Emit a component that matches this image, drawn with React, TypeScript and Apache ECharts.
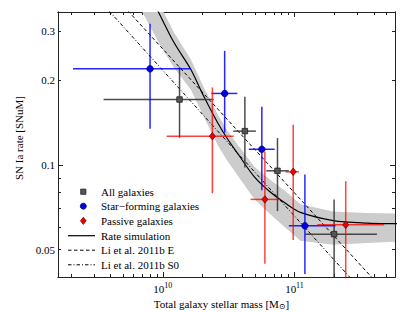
import React, { useEffect, useRef } from "react";
import * as echarts from "echarts";

// ---------- axis ranges & ticks ----------
const X_MIN = 1.6e9;
const X_MAX = 5.8e11;
const Y_MIN = 0.04;
const Y_MAX = 0.35;
const xMajorTicks = [1e10, 1e11];
const xMinorTicks = [2e9, 3e9, 4e9, 5e9, 6e9, 7e9, 8e9, 9e9, 2e10, 3e10, 4e10, 5e10, 6e10, 7e10, 8e10, 9e10, 2e11, 3e11, 4e11, 5e11];
const yLabelTicks = [0.05, 0.1, 0.2, 0.3];
const yMajorTicks = [0.1];
const yMinorTicks = [0.04, 0.05, 0.06, 0.07, 0.08, 0.09, 0.2, 0.3];

// ---------- All galaxies ----------
const allMass = [1.34e10, 4.2e10, 7.43e10, 2.0e11];
const allMassLow = [3.55e9, 3.43e10, 6.11e10, 1.21e11];
const allMassHigh = [2.43e10, 5.09e10, 9.06e10, 4.23e11];
const allRate = [0.171, 0.132, 0.0954, 0.0568];
const allRateLow = [0.125, 0.098, 0.0686, 0.03];
const allRateHigh = [0.223, 0.175, 0.1247, 0.0755];

// ---------- Star-forming galaxies ----------
const sfMass = [8.0e9, 2.95e10, 5.65e10, 1.2e11];
const sfMassLow = [2.08e9, 2.34e10, 4.5e10, 9.06e10];
const sfMassHigh = [1.63e10, 3.68e10, 7.08e10, 2.05e11];
const sfRate = [0.2198, 0.1797, 0.1138, 0.0608];
const sfRateLow = [0.1345, 0.1303, 0.0813, 0.041];
const sfRateHigh = [0.318, 0.2547, 0.161, 0.0926];

// ---------- Passive galaxies ----------
const psMass = [2.38e10, 5.96e10, 9.78e10, 2.45e11];
const psMassLow = [1.07e10, 4.64e10, 8.55e10, 1.49e11];
const psMassHigh = [3.45e10, 7.74e10, 1.08e11, 4.8e11];
const psRate = [0.1267, 0.0755, 0.0946, 0.0613];
const psRateLow = [0.0794, 0.0446, 0.0542, 0.03];
const psRateHigh = [0.1888, 0.1116, 0.139, 0.0877];

// ---------- Rate simulation (line + band) ----------
const simMass = [6.81e9, 9.17e9, 1.21e10, 1.63e10, 2.05e10, 2.61e10, 3.06e10, 3.77e10, 4.98e10, 6.58e10, 8.55e10, 1.11e11, 1.97e11, 3.57e11, 5.82e11, 7.57e11];
const simRate = [0.468, 0.3535, 0.2737, 0.219, 0.1752, 0.1414, 0.125, 0.1086, 0.0906, 0.08, 0.0731, 0.0679, 0.0635, 0.0622, 0.0619, 0.0618];
const simUpper = [0.508, 0.3838, 0.2972, 0.2378, 0.1888, 0.1511, 0.1335, 0.1169, 0.0985, 0.0884, 0.0807, 0.0725, 0.0684, 0.0676, 0.0673, 0.0671];
const simLower = [0.358, 0.276, 0.2227, 0.1857, 0.1486, 0.1179, 0.1042, 0.0906, 0.0755, 0.0667, 0.0599, 0.0538, 0.0521, 0.0528, 0.0534, 0.0536];

// ---------- Li et al. 2011b power laws ----------
const liEMass = [5.43e9, 3.9e11];
const liERate = [0.3535, 0.0397];
const liS0Mass = [3.9e9, 2.66e11];
const liS0Rate = [0.3535, 0.0397];

// ---------- legend ----------
const legendLabels = ["All galaxies", "Star\u2212forming galaxies", "Passive galaxies", "Rate simulation", "Li et al. 2011b E", "Li et al. 2011b S0"];

const FONT = "'Liberation Serif', 'DejaVu Serif', 'Times New Roman', serif";
const AXIS_COLOR = "#222";

function rows(m: number[], ml: number[], mh: number[], r: number[], rl: number[], rh: number[]) {
  return m.map((v, i) => [v, r[i], ml[i], mh[i], rl[i], rh[i]]);
}

function errorBars(name: string, data: number[][], color: string) {
  return {
    type: "custom",
    name,
    xAxisIndex: 0,
    yAxisIndex: 0,
    clip: true,
    silent: true,
    z: 3,
    data,
    encode: { x: 0, y: 1 },
    renderItem: (params: any, api: any) => {
      const x = api.value(0);
      const y = api.value(1);
      const xl = api.value(2);
      const xh = api.value(3);
      const yl = Math.max(api.value(4), Y_MIN);
      const yh = Math.min(api.value(5), Y_MAX);
      const c = api.coord([x, y]);
      const pl = api.coord([Math.max(xl, X_MIN), y]);
      const ph = api.coord([Math.min(xh, X_MAX), y]);
      const ql = api.coord([x, yl]);
      const qh = api.coord([x, yh]);
      const style = { stroke: color, lineWidth: 1.5, fill: null };
      return {
        type: "group",
        children: [
          { type: "line", shape: { x1: pl[0], y1: c[1], x2: ph[0], y2: c[1] }, style },
          { type: "line", shape: { x1: c[0], y1: ql[1], x2: c[0], y2: qh[1] }, style },
        ],
      };
    },
  };
}

function markers(name: string, m: number[], r: number[], symbol: string, size: any, fill: string, edge: string) {
  return {
    type: "scatter",
    name,
    xAxisIndex: 0,
    yAxisIndex: 0,
    symbol,
    symbolSize: size,
    z: 5,
    silent: true,
    itemStyle: { color: fill, borderColor: edge, borderWidth: 0.8, opacity: 1 },
    data: m.map((v, i) => [v, r[i]]),
  };
}

function xAxisDef(position: string, major: boolean, labels: boolean) {
  return {
    type: "log",
    logBase: 10,
    min: X_MIN,
    max: X_MAX,
    gridIndex: 0,
    position,
    axisLine: { show: true, onZero: false, lineStyle: { color: AXIS_COLOR, width: 1 } },
    axisTick: {
      show: true,
      inside: true,
      length: major ? 5 : 3,
      customValues: major ? xMajorTicks : xMinorTicks,
      lineStyle: { color: AXIS_COLOR, width: 1 },
    },
    minorTick: { show: false },
    splitLine: { show: false },
    axisLabel: labels
      ? {
          show: true,
          margin: 4,
          customValues: xMajorTicks,
          formatter: (v: number) => `{b|10}{e|${Math.round(Math.log10(v))}}`,
          rich: {
            b: { fontFamily: FONT, fontSize: 11, color: "#000" },
            e: { fontFamily: FONT, fontSize: 8, color: "#000", padding: [0, 0, 7, 0] },
          },
        }
      : { show: false },
    name: labels ? "{a|Total galaxy stellar mass [M}{s|\u2299}{a|]}" : "",
    nameLocation: "middle",
    nameGap: 20,
    nameTextStyle: {
      rich: {
        a: { fontFamily: FONT, fontSize: 11, color: "#000" },
        s: { fontFamily: FONT, fontSize: 8, color: "#000", padding: [5, 0, 0, 0] },
      },
      padding: [0, 10, 0, 0],
    },
  };
}

function yAxisDef(position: string, major: boolean, labels: boolean) {
  return {
    type: "log",
    logBase: 10,
    min: Y_MIN,
    max: Y_MAX,
    gridIndex: 0,
    position,
    axisLine: { show: true, onZero: false, lineStyle: { color: AXIS_COLOR, width: 1 } },
    axisTick: {
      show: true,
      inside: true,
      length: major ? 5 : 3,
      customValues: major ? yMajorTicks : yMinorTicks,
      lineStyle: { color: AXIS_COLOR, width: 1 },
    },
    minorTick: { show: false },
    splitLine: { show: false },
    axisLabel: labels
      ? {
          show: true,
          margin: 3,
          customValues: yLabelTicks,
          formatter: (v: number) => String(+v.toPrecision(2)),
          fontFamily: FONT,
          fontSize: 11,
          color: "#000",
        }
      : { show: false },
    name: labels ? "SN Ia rate [SNuM]" : "",
    nameLocation: "middle",
    nameGap: 25,
    nameTextStyle: { fontFamily: FONT, fontSize: 11, color: "#000", padding: [0, 0, 0, 13] },
  };
}

function legendGraphic() {
  const x0 = 68;
  const x1 = 95;
  const xm = 83.3;
  const tx = 101;
  const ys = [191.7, 206.2, 220.8, 235.7, 250.2, 264.8];
  const els: any[] = [];
  els.push({ type: "rect", z: 20, shape: { x: xm - 2.6, y: ys[0] - 2.6, width: 5.2, height: 5.2 }, style: { fill: "#555", stroke: "#222", lineWidth: 0.8 } });
  els.push({ type: "circle", z: 20, shape: { cx: xm, cy: ys[1], r: 3 }, style: { fill: "#0000e0", stroke: "#000080", lineWidth: 0.8 } });
  els.push({
    type: "polygon",
    z: 20,
    shape: { points: [[xm, ys[2] - 3.6], [xm + 2.8, ys[2]], [xm, ys[2] + 3.6], [xm - 2.8, ys[2]]] },
    style: { fill: "#ee0000", stroke: "#800000", lineWidth: 0.8 },
  });
  els.push({ type: "line", z: 20, shape: { x1: x0, y1: ys[3], x2: x1, y2: ys[3] }, style: { stroke: "#000", lineWidth: 1.2 } });
  els.push({ type: "line", z: 20, shape: { x1: x0, y1: ys[4], x2: x1, y2: ys[4] }, style: { stroke: "#000", lineWidth: 1, lineDash: [3.5, 2.5] } });
  els.push({ type: "line", z: 20, shape: { x1: x0, y1: ys[5], x2: x1, y2: ys[5] }, style: { stroke: "#000", lineWidth: 1, lineDash: [3.5, 2, 1, 2] } });
  legendLabels.forEach((t, i) => {
    els.push({
      type: "text",
      z: 20,
      x: tx,
      y: ys[i],
      style: { text: t, fontFamily: FONT, fontSize: 11, fill: "#000", verticalAlign: "middle", align: "left" },
    });
  });
  return els;
}

export default function App() {
  const ref = useRef<HTMLDivElement>(null);
  useEffect(() => {
    if (!ref.current) return;
    const chart = echarts.init(ref.current, undefined, { renderer: "svg" });
    const bandData = simMass.map((m, i) => [m, simUpper[i], simLower[i]]);
    const option: any = {
      animation: false,
      backgroundColor: "#fff",
      textStyle: { fontFamily: FONT },
      grid: { left: 58, right: 20, top: 12, bottom: 35, containLabel: false, outerBoundsMode: "none" },
      xAxis: [xAxisDef("bottom", true, true), xAxisDef("bottom", false, false), xAxisDef("top", true, false), xAxisDef("top", false, false)],
      yAxis: [yAxisDef("left", true, true), yAxisDef("left", false, false), yAxisDef("right", true, false), yAxisDef("right", false, false)],
      graphic: legendGraphic(),
      series: [
        {
          type: "custom",
          name: "band",
          xAxisIndex: 0,
          yAxisIndex: 0,
          clip: true,
          silent: true,
          z: 1,
          data: bandData,
          encode: { x: 0, y: 1 },
          renderItem: (params: any, api: any) => {
            if (params.dataIndex !== 0) return null;
            const up = simMass.map((m, i) => api.coord([m, simUpper[i]]));
            const lo = simMass.map((m, i) => api.coord([m, simLower[i]])).reverse();
            return {
              type: "polygon",
              shape: { points: up.concat(lo) },
              style: { fill: "#cccccc", stroke: null },
            };
          },
        },
        {
          type: "line",
          name: "Li et al. 2011b S0",
          xAxisIndex: 0,
          yAxisIndex: 0,
          showSymbol: false,
          symbol: "none",
          z: 2,
          lineStyle: { color: "#000", width: 1, type: [3.5, 2, 1, 2] },
          data: liS0Mass.map((m, i) => [m, liS0Rate[i]]),
        },
        {
          type: "line",
          name: "Li et al. 2011b E",
          xAxisIndex: 0,
          yAxisIndex: 0,
          showSymbol: false,
          symbol: "none",
          z: 2,
          lineStyle: { color: "#000", width: 1, type: [3.5, 2.5] },
          data: liEMass.map((m, i) => [m, liERate[i]]),
        },
        {
          type: "line",
          name: "Rate simulation",
          xAxisIndex: 0,
          yAxisIndex: 0,
          showSymbol: false,
          symbol: "none",
          smooth: 0.3,
          z: 2,
          lineStyle: { color: "#000", width: 1.2 },
          data: simMass.map((m, i) => [m, simRate[i]]),
        },
        errorBars("All galaxies err", rows(allMass, allMassLow, allMassHigh, allRate, allRateLow, allRateHigh), "rgba(45,45,45,0.85)"),
        errorBars("Star-forming err", rows(sfMass, sfMassLow, sfMassHigh, sfRate, sfRateLow, sfRateHigh), "rgba(0,0,255,0.85)"),
        errorBars("Passive err", rows(psMass, psMassLow, psMassHigh, psRate, psRateLow, psRateHigh), "rgba(255,0,0,0.75)"),
        markers("All galaxies", allMass, allRate, "rect", 5.5, "#555", "#222"),
        markers("Star-forming galaxies", sfMass, sfRate, "circle", 6.5, "#0000e0", "#000080"),
        markers("Passive galaxies", psMass, psRate, "diamond", [6, 7.5], "#ee0000", "#800000"),
      ],
    };
    chart.setOption(option);
    return () => chart.dispose();
  }, []);
  return <div ref={ref} style={{ position: "fixed", left: 0, top: 0, width: 415, height: 312 }} />;
}
